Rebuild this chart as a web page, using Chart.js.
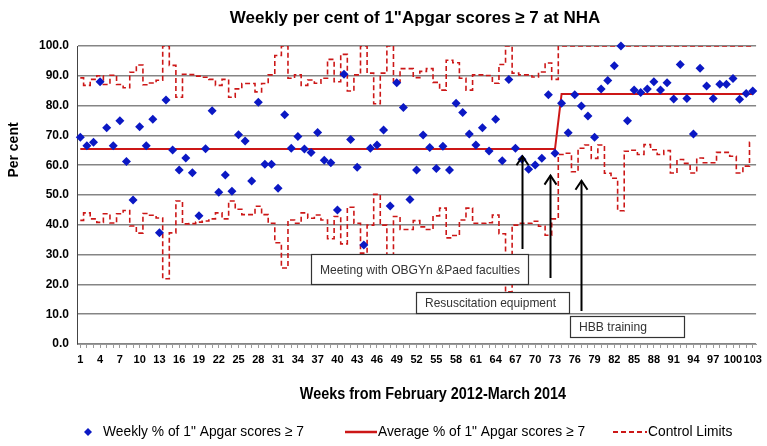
<!DOCTYPE html>
<html>
<head>
<meta charset="utf-8">
<script src="https://cdn.jsdelivr.net/npm/chart.js@4.4.0/dist/chart.umd.min.js"></script>
<style>
  html, body { margin: 0; padding: 0; background: #fff; }
</style>
</head>
<body>
<canvas id="apgarChart" width="767" height="446"></canvas>
<script>
// weeks Feb 2012 - Mar 2014
var weeks = [1,2,3,4,5,6,7,8,9,10,11,12,13,14,15,16,17,18,19,20,
    21,22,23,24,25,26,27,28,29,30,31,32,33,34,35,36,37,38,39,40,
    41,42,43,44,45,46,47,48,49,50,51,52,53,54,55,56,57,58,59,60,
    61,62,63,64,65,66,67,68,69,70,71,72,73,74,75,76,77,78,79,80,
    81,82,83,84,85,86,87,88,89,90,91,92,93,94,95,96,97,98,99,100,
    101,102,103];

// weekly % of 1 min Apgar >= 7
var weeklyPct = [69.4,66.5,67.7,88.0,72.6,66.5,74.9,61.2,48.3,72.9,
    66.5,75.4,37.3,81.9,65.1,58.4,62.4,57.5,43.0,65.5,
    78.3,50.9,56.7,51.3,70.2,68.1,54.7,81.1,60.3,60.3,
    52.3,76.9,65.7,69.6,65.4,64.3,71.0,61.7,60.8,45.0,
    90.5,68.6,59.3,33.2,65.7,66.8,71.8,46.3,87.7,79.4,
    48.5,58.4,70.1,65.9,58.9,66.4,58.4,80.8,77.7,70.5,
    66.8,72.6,64.8,75.4,61.5,88.8,65.7,62.0,58.6,60.1,
    62.3,83.6,64.0,80.8,70.9,83.6,79.9,76.5,69.4,85.6,
    88.4,93.4,100.0,74.9,85.2,84.4,85.6,88.0,85.2,87.7,
    82.2,93.8,82.4,70.5,92.5,86.6,82.4,87.2,87.2,89.1,
    82.1,84.1,84.9];

// average, before / after the change (week 73 -> 74)
var averagePct = [65.4,65.4,65.4,65.4,65.4,65.4,65.4,65.4,65.4,65.4,
    65.4,65.4,65.4,65.4,65.4,65.4,65.4,65.4,65.4,65.4,
    65.4,65.4,65.4,65.4,65.4,65.4,65.4,65.4,65.4,65.4,
    65.4,65.4,65.4,65.4,65.4,65.4,65.4,65.4,65.4,65.4,
    65.4,65.4,65.4,65.4,65.4,65.4,65.4,65.4,65.4,65.4,
    65.4,65.4,65.4,65.4,65.4,65.4,65.4,65.4,65.4,65.4,
    65.4,65.4,65.4,65.4,65.4,65.4,65.4,65.4,65.4,65.4,
    65.4,65.4,65.4,83.9,83.9,83.9,83.9,83.9,83.9,83.9,
    83.9,83.9,83.9,83.9,83.9,83.9,83.9,83.9,83.9,83.9,
    83.9,83.9,83.9,83.9,83.9,83.9,83.9,83.9,83.9,83.9,
    83.9,83.9,83.9];

var upperLimit = [89.3,86.8,88.8,90.0,87.1,90.2,87.1,86.0,91.2,93.6,
    87.0,87.6,88.5,100,93.5,82.8,90.5,90.4,89.9,89.5,
    88.8,86.8,88.8,82.8,85.6,87.4,87.4,84.6,87.4,90.3,
    96.8,100,89.2,90.3,86.8,88.6,87.5,89.2,95.5,88.0,
    97.2,84.9,90.3,100,90.9,80.6,90.9,100,88.0,92.4,
    92.4,89.4,91.5,92.4,87.8,85.2,95.2,94.4,89.2,85.2,
    90.3,90.3,90.1,87.5,93.8,100,90.9,90.3,90.3,89.6,
    91.3,94.3,88.8,100,100,100,100,100,100,100,
    100,100,100,100,100,100,100,100,100,100,
    100,100,100,100,100,100,100,100,100,100,
    100,100,100];

var lowerLimit = [41.5,44.0,42.0,40.8,43.7,40.6,43.7,44.8,39.6,37.2,
    43.8,43.2,42.3,21.9,37.3,48.0,40.3,40.4,40.9,41.3,
    42.0,44.0,42.0,48.0,45.2,43.4,43.4,46.2,43.4,40.5,
    34.0,25.5,41.6,40.5,44.0,42.2,43.3,41.6,35.3,42.8,
    33.6,45.9,40.5,30.5,39.9,50.2,39.9,27.0,42.8,38.4,
    38.4,41.4,39.3,38.4,43.0,45.6,35.6,36.4,41.6,45.6,
    40.5,40.5,40.7,43.3,37.0,17.5,39.9,40.5,40.5,41.2,
    39.5,36.5,42.0,63.6,64.0,57.8,65.7,66.8,62.3,66.8,
    57.3,55.6,44.7,64.7,65.0,63.6,66.9,65.2,63.6,64.9,
    57.4,61.9,60.6,57.4,62.4,60.8,60.8,64.3,64.3,63.0,
    57.4,59.7,67.7];

var seriesNames = ['Weekly % of 1" Apgar scores \u2265 7',
    'Average % of 1" Apgar scores \u2265 7',
    'Control Limits'];

var blue = '#0b18c4';
var red = '#cc1717';

// text boxes + arrows (week the arrow stands on, value the tip points at)
var notes = [
    { text: 'Meeting with OBGYn &Paed faculties', week: 68, tip: 63.0, box: [311, 254, 217, 30], textW: 200 },
    { text: 'Resuscitation equipment', week: 72.2, tip: 56.5, box: [416, 292, 153, 21], textW: 131 },
    { text: 'HBB training', week: 77, tip: 54.8, box: [570, 316, 114, 21], textW: 68 }
];

function weekPixel(scale, week) {
    var i = Math.floor(week) - 1;
    var a = scale.getPixelForValue(i);
    var b = scale.getPixelForValue(i + 1);
    return a + (b - a) * (week - Math.floor(week));
}

// draw text squeezed to a narrow look
function narrowText(c, txt, x, y, sx) {
    c.save();
    c.translate(x, y);
    c.scale(sx, 1);
    c.fillText(txt, 0, 0);
    c.restore();
}

var overlay = {
    id: 'overlay',
    afterDraw: function (chart) {
        var c = chart.ctx;
        var xs = chart.scales.x, ys = chart.scales.y;
        c.save();

        // title
        c.fillStyle = '#000';
        c.textAlign = 'center';
        c.textBaseline = 'middle';
        c.font = 'bold 17px "Liberation Sans", Arial, sans-serif';
        c.fillText('Weekly per cent of 1"Apgar scores \u2265 7 at NHA', 415, 18);

        // y title
        c.save();
        c.translate(14, 150);
        c.rotate(-Math.PI / 2);
        c.font = 'bold 14px "Liberation Sans", Arial, sans-serif';
        c.fillText('Per cent', 0, 0);
        c.restore();

        // x title
        c.font = 'bold 16px "Liberation Sans", Arial, sans-serif';
        narrowText(c, 'Weeks from February 2012-March 2014', 433, 395, 0.9);

        // legend
        var ly = 432;
        c.textAlign = 'left';
        c.font = '15px "Liberation Sans", Arial, sans-serif';
        c.fillStyle = blue;
        c.beginPath();
        c.moveTo(88, ly - 4); c.lineTo(92, ly); c.lineTo(88, ly + 4); c.lineTo(84, ly);
        c.closePath(); c.fill();
        c.fillStyle = '#000';
        narrowText(c, seriesNames[0], 103, ly, 0.92);

        c.strokeStyle = red;
        c.lineWidth = 2.5;
        c.beginPath(); c.moveTo(345, ly); c.lineTo(377, ly); c.stroke();
        narrowText(c, seriesNames[1], 378, ly, 0.92);

        c.lineWidth = 2;
        c.setLineDash([5, 3]);
        c.beginPath(); c.moveTo(613, ly); c.lineTo(647, ly); c.stroke();
        c.setLineDash([]);
        narrowText(c, seriesNames[2], 648, ly, 0.92);

        // annotation boxes
        notes.forEach(function (n) {
            var b = n.box;
            c.fillStyle = '#fff';
            c.fillRect(b[0], b[1], b[2], b[3]);
            c.strokeStyle = '#333';
            c.lineWidth = 1.2;
            c.strokeRect(b[0] + 0.5, b[1] + 0.5, b[2], b[3]);
            c.fillStyle = '#333';
            c.textAlign = 'left';
            c.font = '13px "Liberation Sans", Arial, sans-serif';
            var w = c.measureText(n.text).width;
            narrowText(c, n.text, b[0] + 9, b[1] + b[3] / 2 + 1, Math.min(1, n.textW / w));
        });

        // arrows
        c.strokeStyle = '#000';
        c.lineWidth = 2;
        notes.forEach(function (n) {
            var x = Math.round(weekPixel(xs, n.week)) + 0.5;
            var top = ys.getPixelForValue(n.tip);
            var bottom = n.box[1] - (n === notes[1] ? 14 : 5);
            c.beginPath();
            c.moveTo(x, bottom); c.lineTo(x, top);
            c.stroke();
            c.beginPath();
            c.moveTo(x - 6, top + 9); c.lineTo(x, top); c.lineTo(x + 6, top + 9);
            c.stroke();
        });
        c.restore();
    }
};

var ctx = document.getElementById('apgarChart').getContext('2d');
var apgarChart = new Chart(ctx, {
    type: 'line',
    data: {
        labels: weeks,
        datasets: [{
            label: seriesNames[0],
            data: weeklyPct,
            showLine: false,
            pointStyle: 'rectRot',
            pointRadius: 4.5,
            pointBackgroundColor: blue,
            pointBorderColor: blue,
            pointBorderWidth: 0,
            clip: false
        }, {
            label: seriesNames[1],
            data: averagePct,
            borderColor: red,
            borderWidth: 2,
            pointRadius: 0,
            tension: 0
        }, {
            label: 'UCL',
            data: upperLimit,
            borderColor: red,
            borderWidth: 1.6,
            borderDash: [5, 3],
            pointRadius: 0,
            stepped: 'middle'
        }, {
            label: 'LCL',
            data: lowerLimit,
            borderColor: red,
            borderWidth: 1.6,
            borderDash: [5, 3],
            pointRadius: 0,
            stepped: 'middle'
        }]
    },
    options: {
        responsive: false,
        animation: false,
        layout: { padding: { top: 46, right: 9, left: 0, bottom: 0 } },
        plugins: {
            legend: { display: false },
            title: { display: false },
            tooltip: { enabled: false }
        },
        scales: {
            x: {
                offset: true,
                grid: { display: true, drawOnChartArea: false, tickLength: 4, color: '#9a9a9a' },
                border: { color: '#9a9a9a', width: 1 },
                ticks: {
                    autoSkip: false,
                    maxRotation: 0,
                    padding: 5,
                    color: '#000',
                    font: { family: '"Liberation Sans", Arial', size: 11, weight: 'bold' },
                    callback: function (v, i) {
                        return i % 3 === 0 ? this.getLabelForValue(v) : '';
                    }
                },
                afterFit: function (s) { s.height = 102; }
            },
            y: {
                min: 0,
                max: 100,
                ticks: {
                    stepSize: 10,
                    padding: 8,
                    color: '#000',
                    font: { family: '"Liberation Sans", Arial', size: 12, weight: 'bold' },
                    callback: function (v) { return v.toFixed(1); }
                },
                grid: { color: '#858585', lineWidth: 1.5, drawTicks: false },
                border: { color: '#444', width: 1 },
                afterFit: function (s) { s.width = 77; }
            }
        }
    },
    plugins: [overlay]
});
</script>
</body>
</html>
